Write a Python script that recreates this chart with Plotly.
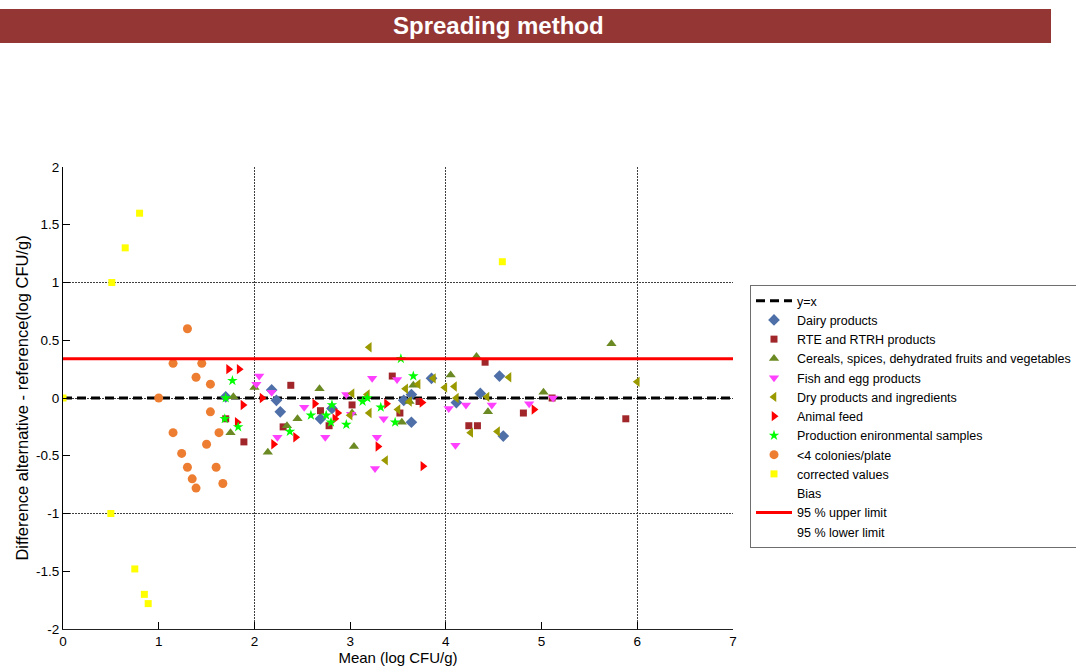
import plotly.graph_objects as go

# ---- data: mean (log CFU/g) vs difference alternative - reference ----
dairy_x = [1.70, 2.18, 2.23, 2.27, 2.69, 2.81, 3.56, 3.64, 3.64, 3.85, 4.11, 4.36, 4.56, 4.60]
dairy_y = [0.01, 0.07, -0.02, -0.12, -0.18, -0.09, -0.02, 0.03, -0.21, 0.17, -0.04, 0.04, 0.19, -0.33]

rte_x = [1.70, 1.89, 2.30, 2.38, 2.69, 2.78, 3.02, 3.44, 3.52, 3.72, 4.24, 4.33, 4.41, 4.81, 5.11, 5.88]
rte_y = [-0.18, -0.38, -0.25, 0.11, -0.11, -0.24, -0.06, 0.19, -0.13, -0.03, -0.24, -0.24, 0.31, -0.13, 0.0, -0.18]

cereal_x = [1.75, 1.78, 2.00, 2.14, 2.34, 2.45, 2.68, 3.02, 3.04, 3.54, 3.62, 3.66, 4.05, 4.32, 4.44, 5.02, 5.73]
cereal_y = [-0.30, 0.01, 0.09, -0.47, -0.24, -0.18, 0.08, -0.13, -0.42, -0.21, -0.03, 0.11, 0.20, 0.36, -0.12, 0.05, 0.47]

fish_x = [2.02, 2.05, 2.18, 2.24, 2.52, 2.74, 2.96, 3.01, 3.23, 3.26, 3.28, 3.35, 3.49, 4.03, 4.10, 4.21, 4.48, 4.87, 5.12]
fish_y = [0.12, 0.19, 0.05, -0.34, -0.08, -0.34, 0.03, -0.14, 0.17, -0.61, -0.34, -0.18, 0.16, -0.09, -0.41, -0.06, -0.06, -0.05, 0.0]

dry_x = [3.00, 3.02, 3.18, 3.20, 3.20, 3.37, 3.50, 3.58, 3.62, 3.71, 3.87, 3.99, 4.09, 4.11, 4.26, 4.43, 4.54, 4.66, 6.00]
dry_y = [-0.15, 0.04, 0.03, 0.44, -0.13, -0.54, -0.10, 0.08, -0.03, 0.12, 0.17, 0.09, 0.10, 0.0, -0.30, 0.01, -0.29, 0.18, 0.14]

feed_x = [1.73, 1.82, 1.84, 1.88, 2.08, 2.20, 2.43, 2.63, 2.84, 2.87, 3.29, 3.38, 3.75, 3.76, 4.92]
feed_y = [0.25, -0.21, 0.25, -0.06, 0.0, -0.40, -0.34, -0.05, -0.18, -0.13, -0.42, -0.05, -0.04, -0.59, -0.10]

env_x = [1.69, 1.70, 1.77, 1.83, 2.37, 2.59, 2.75, 2.80, 2.81, 2.96, 3.13, 3.18, 3.32, 3.47, 3.53, 3.66]
env_y = [-0.18, 0.0, 0.15, -0.25, -0.29, -0.15, -0.15, -0.21, -0.06, -0.23, -0.03, 0.0, -0.08, -0.21, 0.34, 0.19]

low_x = [1.00, 1.15, 1.15, 1.24, 1.30, 1.30, 1.35, 1.39, 1.39, 1.45, 1.50, 1.54, 1.54, 1.60, 1.63, 1.67]
low_y = [0.0, 0.30, -0.30, -0.48, 0.60, -0.60, -0.70, 0.18, -0.78, 0.30, -0.40, 0.12, -0.12, -0.60, -0.30, -0.74]

corr_x = [0.0, 0.50, 0.51, 0.65, 0.75, 0.80, 0.85, 0.89, 4.59]
corr_y = [0.0, -1.0, 1.0, 1.30, -1.48, 1.60, -1.70, -1.78, 1.18]

# reference lines
line_x = [0, 7]
identity_y = [0, 0]
upper_limit = 0.34

x_ticks = [0, 1, 2, 3, 4, 5, 6, 7]
y_ticks = [-2, -1.5, -1, -0.5, 0, 0.5, 1, 1.5, 2]
y_tick_text = ["-2", "-1.5", "-1", "-0.5", "0", "0.5", "1", "1.5", "2"]

FONT = "Liberation Sans, Arial, sans-serif"

fig = go.Figure()

# y=x reference (drawn first so the markers sit on top of it)
fig.add_trace(go.Scatter(
    x=line_x, y=identity_y, mode="lines", name="y=x", legendrank=1,
    line=dict(color="black", width=3, dash="9px,5px"),
))

groups = [
    ("Dairy products", dairy_x, dairy_y, "diamond", "#4F6FA8", 9),
    ("RTE and RTRH products", rte_x, rte_y, "square", "#A0262A", 7),
    ("Cereals, spices, dehydrated fruits and vegetables", cereal_x, cereal_y, "triangle-up", "#6B8A23", 9),
    ("Fish and egg products", fish_x, fish_y, "triangle-down", "#FF40FF", 9),
    ("Dry products and ingredients", dry_x, dry_y, "triangle-left", "#9A9A00", 9),
    ("Animal feed", feed_x, feed_y, "triangle-right", "#FF0000", 9),
    ("Production enironmental samples", env_x, env_y, "star", "#00FF00", 8),
    ("<4 colonies/plate", low_x, low_y, "circle", "#ED7D31", 9),
    ("corrected values", corr_x, corr_y, "square", "#FFFF00", 7),
]
for rank, (name, xs, ys, sym, col, size) in enumerate(groups, start=2):
    fig.add_trace(go.Scatter(
        x=xs, y=ys, mode="markers", name=name, legendrank=rank,
        marker=dict(symbol=sym, color=col, size=size, line=dict(width=0)),
    ))

fig.add_trace(go.Scatter(
    x=[None], y=[None], mode="lines", name="Bias", legendrank=11,
    line=dict(color="rgba(0,0,0,0)", width=2),
))
fig.add_trace(go.Scatter(
    x=line_x, y=[upper_limit, upper_limit], mode="lines", name="95 % upper limit",
    legendrank=12, line=dict(color="#FF0000", width=3),
))
fig.add_trace(go.Scatter(
    x=[None], y=[None], mode="lines", name="95 % lower limit", legendrank=13,
    line=dict(color="rgba(0,0,0,0)", width=2),
))

W, H = 1076, 672
ML, MR, MT, MB = 63, 343, 167, 43
pw, ph = W - ML - MR, H - MT - MB


def px_x(p):
    return (p - ML) / pw


def px_y(p):
    return (H - MB - p) / ph


grid = dict(showgrid=True, gridcolor="#404040", gridwidth=1.2, griddash="2px,1px", ticks="")

fig.update_layout(
    width=W, height=H,
    margin=dict(l=ML, r=MR, t=MT, b=MB, autoexpand=False),
    paper_bgcolor="white", plot_bgcolor="white",
    font=dict(family=FONT, color="black"),
    showlegend=True,
    legend=dict(
        x=px_x(750), y=px_y(285), xanchor="left", yanchor="top",
        bgcolor="white", bordercolor="#6e6e6e", borderwidth=1,
        font=dict(family=FONT, size=12.5, color="black"),
        itemwidth=36, traceorder="normal",
    ),
    xaxis=dict(
        range=[0, 7], tickmode="array", tickvals=x_ticks, ticktext=[str(v) for v in x_ticks],
        ticks="inside", ticklen=7, tickcolor="black", showgrid=False, zeroline=False,
        showline=True, linecolor="#222222", linewidth=1,
        tickfont=dict(size=13.5, color="black"),
        minor=dict(tickmode="array", tickvals=[2, 4, 6], **grid),
        title=dict(text="Mean (log CFU/g)", font=dict(size=15), standoff=4),
    ),
    yaxis=dict(
        range=[-2, 2], tickmode="array", tickvals=y_ticks, ticktext=y_tick_text,
        ticks="inside", ticklen=7, tickcolor="black", showgrid=False, zeroline=False,
        showline=True, linecolor="black", linewidth=1,
        tickfont=dict(size=13.5, color="black"),
        minor=dict(tickmode="array", tickvals=[-2, -1, 0, 1], **grid),
        title=dict(text="Difference alternative - reference(log CFU/g)", font=dict(size=16.5), standoff=3),
    ),
    shapes=[dict(
        type="rect", xref="paper", yref="paper", layer="below",
        x0=px_x(0), x1=px_x(1051), y0=px_y(43), y1=px_y(9),
        fillcolor="#943634", line=dict(width=0),
    )],
    annotations=[dict(
        text="<b>Spreading method</b>", xref="paper", yref="paper",
        x=px_x(498), y=px_y(26), xanchor="center", yanchor="middle", showarrow=False,
        font=dict(family=FONT, size=24, color="white"),
    )],
)

fig.write_html("out.html")
